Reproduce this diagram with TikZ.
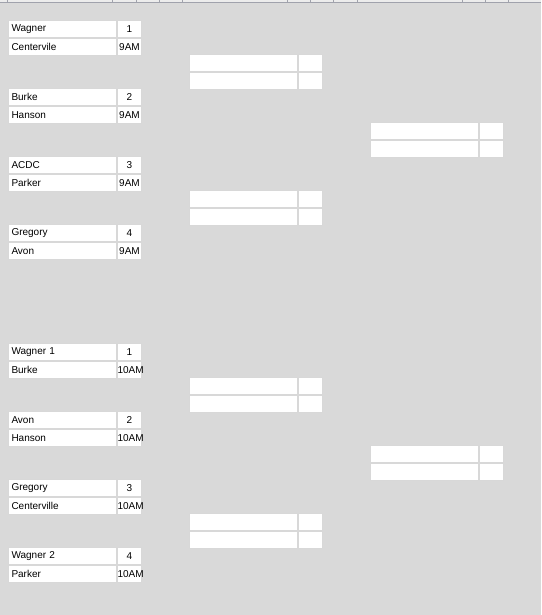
\documentclass[tikz,border=0pt]{standalone}
\usepackage{fontspec}
\setmainfont{Liberation Sans}
\definecolor{sheetgray}{RGB}{217,217,217}
\definecolor{gridgray}{RGB}{216,216,216}
\definecolor{headgray}{RGB}{160,162,172}
\begin{document}
\begin{tikzpicture}[x=1pt, y=-1pt,
  namecell/.style={rectangle, anchor=north west, fill=white, draw=gridgray, line width=1pt,
    minimum width=108pt, minimum height=17pt, text width=102pt, inner xsep=3pt, inner ysep=0pt,
    align=left, font=\fontsize{10pt}{12pt}\selectfont},
  numcell/.style={rectangle, anchor=north west, fill=white, draw=gridgray, line width=1pt,
    minimum width=24pt, minimum height=17pt, text width=24pt, inner xsep=0pt, inner ysep=0pt,
    align=center, font=\fontsize{10pt}{12pt}\selectfont}]
% Sheet background and column header line
\useasboundingbox (0,0) rectangle (541,615);
\fill[sheetgray] (0,0) rectangle (541,615);
\fill[gray!15] (0,0) rectangle (541,2);
\draw[headgray, line width=1pt] (0,2.5) -- (541,2.5);
\foreach \cx in {7,112,136,159,182,287,310,333,357,462,485,508}
  \draw[headgray, line width=0.8pt] (\cx,0) -- (\cx,2.5);

% First round, 9AM games
\node[namecell] (p1a) at (8,20) {Wagner};
\node[numcell] (n1a) at (p1a.north east) {1};
\node[namecell] (p1b) at (p1a.south west) {Centervile};
\node[numcell] (n1b) at (p1b.north east) {9AM};
\node[namecell] (p2a) at (8,88) {Burke};
\node[numcell] (n2a) at (p2a.north east) {2};
\node[namecell] (p2b) at (p2a.south west) {Hanson};
\node[numcell] (n2b) at (p2b.north east) {9AM};
\node[namecell] (p3a) at (8,156) {ACDC};
\node[numcell] (n3a) at (p3a.north east) {3};
\node[namecell] (p3b) at (p3a.south west) {Parker};
\node[numcell] (n3b) at (p3b.north east) {9AM};
\node[namecell] (p4a) at (8,224) {Gregory};
\node[numcell] (n4a) at (p4a.north east) {4};
\node[namecell] (p4b) at (p4a.south west) {Avon};
\node[numcell] (n4b) at (p4b.north east) {9AM};

% First round, 10AM games
\node[namecell] (q1a) at (8,343) {Wagner 1};
\node[numcell] (m1a) at (q1a.north east) {1};
\node[namecell] (q1b) at (q1a.south west) {Burke};
\node[numcell] (m1b) at (q1b.north east) {10AM};
\node[namecell] (q2a) at (8,411) {Avon};
\node[numcell] (m2a) at (q2a.north east) {2};
\node[namecell] (q2b) at (q2a.south west) {Hanson};
\node[numcell] (m2b) at (q2b.north east) {10AM};
\node[namecell] (q3a) at (8,479) {Gregory};
\node[numcell] (m3a) at (q3a.north east) {3};
\node[namecell] (q3b) at (q3a.south west) {Centerville};
\node[numcell] (m3b) at (q3b.north east) {10AM};
\node[namecell] (q4a) at (8,547) {Wagner 2};
\node[numcell] (m4a) at (q4a.north east) {4};
\node[namecell] (q4b) at (q4a.south west) {Parker};
\node[numcell] (m4b) at (q4b.north east) {10AM};

% Second round (empty)
\foreach \ry/\id in {54/s1,190/s2,377/s3,513/s4} {
  \node[namecell] (\id a) at (189,\ry) {};
  \node[numcell] (\id an) at (\id a.north east) {};
  \node[namecell] (\id b) at (\id a.south west) {};
  \node[numcell] (\id bn) at (\id b.north east) {};
}

% Finals (empty)
\foreach \ry/\id in {122/f1,445/f2} {
  \node[namecell] (\id a) at (370,\ry) {};
  \node[numcell] (\id an) at (\id a.north east) {};
  \node[namecell] (\id b) at (\id a.south west) {};
  \node[numcell] (\id bn) at (\id b.north east) {};
}
\end{tikzpicture}
\end{document}
